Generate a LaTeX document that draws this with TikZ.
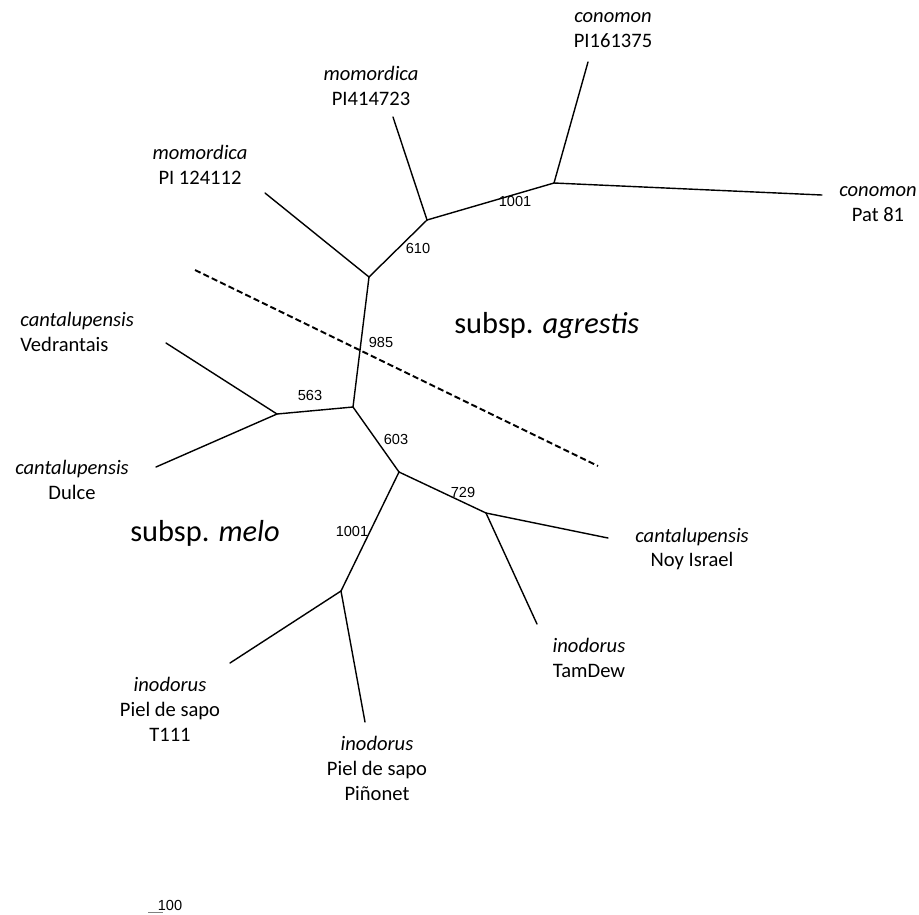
\documentclass[tikz,border=0pt]{standalone}
\usepackage{fontspec}
\setmainfont{Carlito}
\newfontfamily\bootfont{Liberation Sans}
\usetikzlibrary{positioning}

\begin{document}
\begin{tikzpicture}[x=0.02cm,y=-0.02cm,
	branch/.style={line width=0.8pt,line cap=round},
	taxon/.style={align=center,inner sep=0pt,font=\fontsize{11.7}{14.2}\selectfont},
	boot/.style={inner sep=0pt,font=\bootfont\fontsize{8.3}{10}\selectfont},
	clade/.style={inner sep=0pt,font=\fontsize{17.3}{20}\selectfont}]
				
				\useasboundingbox (0,0) rectangle (919,914);
				
				% Internal nodes
				\coordinate (a) at (369,277);
				\coordinate (b) at (427,220);
				\coordinate (c) at (554,183);
				\coordinate (d) at (353,407);
				\coordinate (e) at (277,414);
				\coordinate (f) at (399,472);
				\coordinate (g) at (486,513);
				\coordinate (h) at (341,591);
				
				% Leaves
				\coordinate (pi161) at (588,62);
				\coordinate (pat) at (822,195);
				\coordinate (pi414) at (393,117);
				\coordinate (pi124) at (265,193);
				\coordinate (vedr) at (166,343);
				\coordinate (dulce) at (156,467);
				\coordinate (noy) at (608,538);
				\coordinate (tam) at (537,624);
				\coordinate (t111) at (230,663);
				\coordinate (pinon) at (365,722);
				
				% Branches
				\foreach \u/\v in {a/b,b/c,c/pi161,c/pat,b/pi414,a/pi124,a/d,d/e,e/vedr,e/dulce,d/f,f/g,g/noy,g/tam,f/h,h/t111,h/pinon}
				{
					\draw[branch] (\u) -- (\v);
				}
				
				% Bootstrap values
				\node[boot] (bs1) at (515,201) {1001};
				\node[boot] (bs2) at (418,248) {610};
				\node[boot] (bs3) at (381,342) {985};
				\node[boot] (bs4) at (310,395) {563};
				\node[boot] (bs5) at (396,439) {603};
				\node[boot] (bs6) at (463,492) {729};
				\node[boot] (bs7) at (352,531) {1001};
				
				% Taxon labels
				\node[taxon] (lpi161) at (613,30.5) {\textit{conomon}\\PI161375};
				\node[taxon] (lpat) at (878,204.5) {\textit{conomon}\\Pat 81};
				\node[taxon] (lpi414) at (371,85.5) {\textit{momordica}\\PI414723};
				\node[taxon] (lpi124) at (200,164.5) {\textit{momordica}\\PI 124112};
				\node[taxon,align=left,anchor=west] (lvedr) at (20,331.5) {\textit{cantalupensis}\\Vedrantais};
				\node[taxon] (ldulce) at (72,479.5) {\textit{cantalupensis}\\Dulce};
				\node[taxon] (lnoy) at (692,549) {\textit{cantalupensis}\\Noy Israel};
				\node[taxon] (ltam) at (589,657.5) {\textit{inodorus}\\TamDew};
				\node[taxon] (lt111) at (170,709) {\textit{inodorus}\\Piel de sapo\\T111};
				\node[taxon] (lpinon) at (377,768) {\textit{inodorus}\\Piel de sapo\\Piñonet};
				
				% Subspecies
				\coordinate (split1) at (195,270);
				\coordinate (split2) at (598,466);
				\draw[line width=1.1pt,dash pattern=on 3.5pt off 1.8pt] (split1) -- (split2);
				\node[clade,anchor=west] (agrestis) at (454,326) {subsp. \textit{agrestis}};
				\node[clade] (melo) at (205,533) {subsp. \textit{melo}};
				
				% Scale bar
				\coordinate (bar1) at (148,912.5);
				\coordinate (bar2) at (163,912.5);
				\draw[gray,line width=0.6pt] (bar1) -- (bar2);
				\node[boot] (scale) at (170,905) {100};
				
			\end{tikzpicture}
\end{document}
